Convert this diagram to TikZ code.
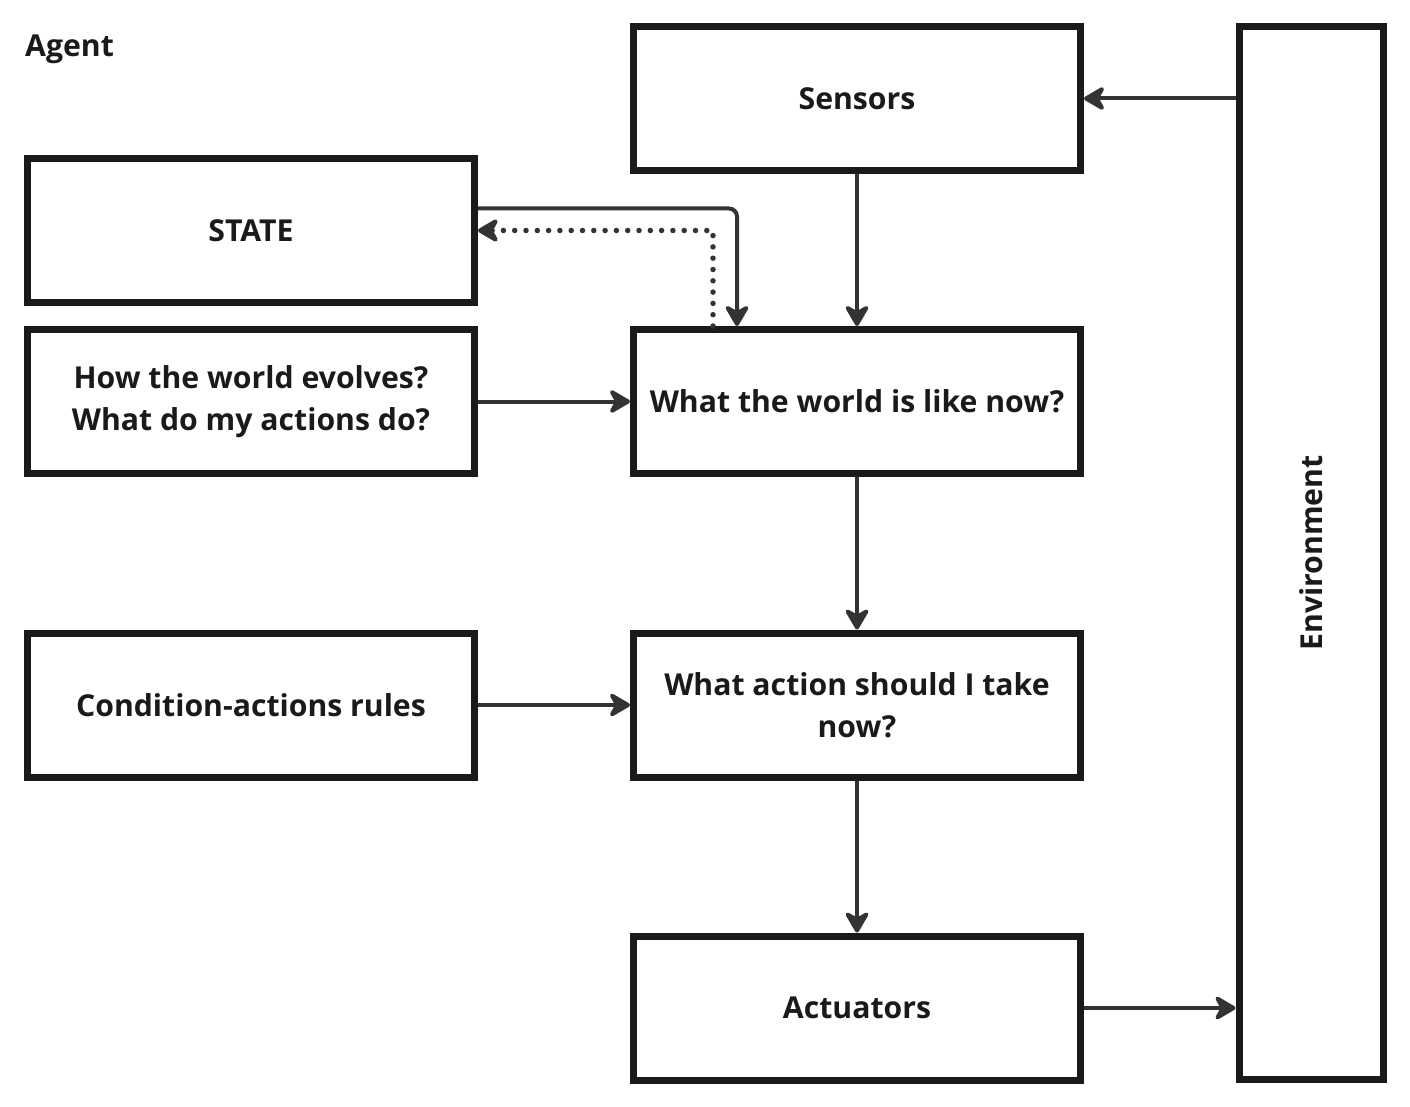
\documentclass[tikz,border=0pt]{standalone}
\usepackage{fontspec}
\setmainfont{Open Sans}
\usetikzlibrary{arrows.meta}
\definecolor{boxc}{HTML}{1A1A1A}
\definecolor{arrc}{HTML}{333333}
\begin{document}
\begin{tikzpicture}[x=1pt,y=-1pt,
 lbl/.style={font=\fontsize{30.2}{42}\selectfont\bfseries, text=boxc, align=center},
 box/.style={lbl, draw=boxc, line width=7pt, minimum width=447pt, minimum height=144pt, inner sep=0pt},
 arr/.style={draw=arrc, line width=4pt, -{Stealth[length=25pt,width=29pt,inset=8pt,round]}},
 dotarr/.style={arr, line width=5.5pt, line cap=round, dash pattern=on 0pt off 11.3pt},
]
\useasboundingbox[fill=white] (0,0) rectangle (1410,1107);

\node[lbl, anchor=base west, inner sep=0pt] (agent) at (25,57) {Agent};

\node[box] (sensors) at (857,98.5) {Sensors};
\node[box] (state) at (251,230.5) {STATE};
\node[box] (how) at (251,401.5) {How the world evolves?\\What do my actions do?};
\node[box] (wwn) at (857,401.5) {What the world is like now?};
\node[box] (cond) at (251,705) {Condition-actions rules};
\node[box] (action) at (857,705) {What action should I take\\now?};
\node[box] (act) at (857,1008) {Actuators};
\node[box, minimum width=144pt, minimum height=1053pt] (env) at (1311,553) {};
\node[lbl, rotate=90] (envlabel) at (env.center) {Environment};

\draw[arr] (env.west |- sensors.east) -- (sensors.east);
\draw[arr] (sensors.south) -- (wwn.north);
\draw[arr, rounded corners=8pt] ([yshift=22pt]state.east) -| ([xshift=-120pt]wwn.north);
\draw[dotarr] ([xshift=-144pt]wwn.north) |- (state.east);
\draw[arr] (how.east) -- (wwn.west);
\draw[arr] (wwn.south) -- (action.north);
\draw[arr] (cond.east) -- (action.west);
\draw[arr] (action.south) -- (act.north);
\draw[arr] (act.east) -- (env.west |- act.east);
\end{tikzpicture}
\end{document}
